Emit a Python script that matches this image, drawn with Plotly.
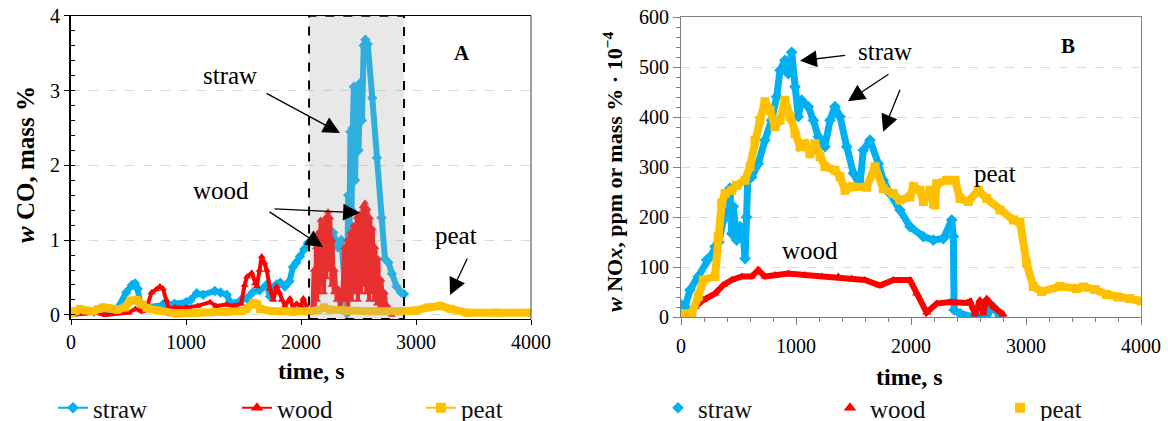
import plotly.graph_objects as go

FONT = "Liberation Serif"
BLUE = "#00b0f0"
RED = "#ff0000"
GOLD = "#ffc000"

# ---------------- Panel A : CO ----------------
co_straw_t = [0, 100, 200, 300, 409, 480, 530, 557, 580, 600, 615, 650, 800, 900, 1000, 1040, 1093, 1150,
              1250, 1300, 1355, 1383, 1420, 1480, 1530, 1580, 1640, 1700, 1730, 1760, 1790, 1820, 1860, 1900,
              1930, 1960, 1990, 2030, 2060, 2100, 2150, 2200, 2250, 2280, 2320, 2350, 2380, 2400, 2410, 2420,
              2430, 2440, 2450, 2460, 2470, 2485, 2500, 2515, 2530, 2545, 2560, 2580, 2620, 2660, 2700, 2730,
              2760, 2790, 2830, 2870, 2895]
co_straw_v = [0.03, 0.05, 0.04, 0.06, 0.10, 0.30, 0.40, 0.42, 0.35, 0.15, 0.07, 0.10, 0.14, 0.15, 0.17, 0.20,
              0.29, 0.27, 0.32, 0.30, 0.27, 0.17, 0.15, 0.20, 0.22, 0.30, 0.33, 0.40, 0.25, 0.37, 0.41, 0.43,
              0.38, 0.45, 0.64, 0.70, 0.78, 0.88, 0.96, 1.00, 0.90, 1.05, 1.13, 1.10, 0.90, 1.00, 0.30, 0.02,
              1.60, 0.90, 2.45, 1.40, 2.50, 3.05, 1.80, 3.00, 2.20, 3.10, 2.60, 3.60, 3.68, 3.62, 2.90, 2.10,
              1.30, 0.75, 0.70, 0.55, 0.38, 0.30, 0.28]

co_wood_t = [0, 100, 200, 300, 400, 500, 560, 620, 660, 700, 740, 773, 800, 830, 850, 900, 1000, 1100, 1210,
             1260, 1350, 1420, 1480, 1510, 1530, 1571, 1600, 1615, 1640, 1658, 1680, 1702, 1730, 1759, 1788,
             1810, 1832, 1860, 1904, 1930, 1962, 2000, 2020, 2060, 2090,
             2100, 2110, 2120, 2130, 2140, 2150, 2160, 2170, 2180, 2190, 2200, 2210, 2220, 2235, 2245, 2255,
             2265, 2275, 2285, 2295, 2310, 2325, 2340, 2360, 2375, 2385, 2400, 2410, 2426, 2440, 2455, 2470,
             2484, 2495, 2510, 2522, 2535, 2547, 2557, 2568, 2580, 2592, 2602, 2614, 2625, 2637, 2648, 2660,
             2672, 2684, 2700, 2715, 2730, 2745, 2760, 2790]
co_wood_v = [0.0, 0.02, 0.03, 0.0, 0.02, 0.03, 0.08, 0.05, 0.10, 0.30, 0.34, 0.38, 0.35, 0.20, 0.08, 0.10,
             0.10, 0.12, 0.17, 0.12, 0.14, 0.12, 0.15, 0.40, 0.51, 0.56, 0.42, 0.38, 0.60, 0.78, 0.70, 0.60,
             0.35, 0.20, 0.38, 0.30, 0.20, 0.12, 0.22, 0.10, 0.15, 0.12, 0.22, 0.07, 0.05,
             0.10, 0.60, 0.10, 0.90, 0.20, 1.10, 0.30, 1.27, 0.40, 1.20, 0.30, 1.30, 0.50, 1.38, 0.60, 1.30,
             0.40, 1.00, 0.30, 0.60, 0.20, 0.35, 0.06, 0.30, 0.90, 0.20, 1.00, 0.10, 1.10, 0.20, 1.20, 0.30,
             1.31, 0.20, 1.35, 0.30, 1.45, 0.40, 1.50, 0.30, 1.42, 0.20, 1.30, 0.30, 1.15, 0.20, 0.90, 0.15,
             0.75, 0.10, 0.47, 0.10, 0.30, 0.05, 0.11, 0.0]

co_peat_t = [0, 40, 78, 130, 194, 240, 280, 330, 400, 470, 513, 571, 620, 658, 750, 919, 1100, 1354, 1480,
             1528, 1586, 1620, 1643, 1750, 1930, 2060, 2150, 2200, 2250, 2400, 2600, 2860, 3000, 3100, 3209,
             3300, 3440, 3700, 4000]
co_peat_v = [0.02, 0.05, 0.08, 0.06, 0.05, 0.08, 0.10, 0.09, 0.07, 0.10, 0.19, 0.20, 0.14, 0.09, 0.06, 0.02,
             0.03, 0.04, 0.05, 0.08, 0.16, 0.14, 0.08, 0.05, 0.04, 0.05, 0.06, 0.10, 0.07, 0.05, 0.05, 0.05,
             0.06, 0.10, 0.12, 0.08, 0.03, 0.03, 0.03]

# ---------------- Panel B : NOx ----------------
nox_straw_t = [0, 35, 78, 151, 223, 252, 296, 330, 368, 400, 426, 441, 455, 484, 513, 542, 557, 570, 580, 614,
               672, 730, 788, 832, 861, 904, 933, 962, 991, 1020, 1049, 1107, 1151, 1194, 1252, 1296, 1339,
               1383, 1441, 1499, 1542, 1557, 1585, 1643, 1716, 1759, 1817, 1904, 1991, 2107, 2194, 2281, 2354,
               2368, 2375, 2426, 2542, 2658, 2716, 2774]
nox_straw_v = [25, 20, 54, 81, 114, 120, 141, 150, 194, 230, 258, 167, 221, 154, 181, 161, 117, 200, 274, 280,
               307, 354, 394, 441, 494, 514, 487, 530, 461, 401, 434, 421, 394, 361, 341, 394, 421,
               401, 341, 288, 268, 267, 334, 354, 307, 274, 247, 214, 181, 161, 154, 157, 194,
               161, 14, 7, 0, 4, 20, 0]

nox_wood_t = [0, 78, 122, 194, 296, 368, 441, 528, 614, 672, 730, 817, 933, 1078, 1223, 1368, 1484, 1600,
              1730, 1846, 1991, 2049, 2136, 2223, 2339, 2484, 2513, 2557, 2600, 2629, 2658, 2716, 2803]
nox_wood_v = [0, 7, 20, 34, 47, 64, 74, 81, 81, 94, 81, 84, 87, 84, 81, 81, 77, 74,
              63, 74, 74, 47, 9, 27, 30, 28, 31, 5, 34, 7, 37, 20, 5]

nox_peat_t = [0, 93, 151, 194, 296, 324, 354, 383, 441, 484, 557, 600, 643, 687, 730, 774, 817, 861, 904, 948,
              991, 1035, 1078, 1122, 1165, 1209, 1252, 1339, 1383, 1426, 1484, 1614, 1687, 1759, 1846, 1904,
              1991, 2020, 2078, 2107, 2136, 2165, 2194, 2209, 2223, 2310, 2383, 2426, 2499, 2586, 2658, 2774,
              2890, 2948, 3006, 3064, 3136, 3296, 3441, 3500, 3600, 3700, 3800, 3900, 4000]
nox_peat_v = [7, 7, 41, 74, 81, 161, 228, 247, 254, 264, 274, 301, 354, 394, 431, 414, 381, 394, 434, 401,
              367, 341, 347, 327, 347, 321, 301, 294, 281, 254, 261, 260, 301, 257, 247, 234,
              240, 261, 254, 231, 241, 254, 227, 224, 267, 274, 274, 237, 231, 254, 237, 214,
              194, 190, 107, 61, 51, 61, 57, 60, 55, 45, 40, 37, 32]

series_names = ["straw", "wood", "peat"]
x_ticks = [0, 1000, 2000, 3000, 4000]

W, H = 1168, 421


def px_x(p):
    return p / W


def px_y(p):
    return 1 - p / H


fig = go.Figure()

# Panel A data (lines + markers)
for name, t, v, col, sym, lw, ms in [
    ("straw", co_straw_t, co_straw_v, BLUE, "diamond", 6, 8),
    ("wood", co_wood_t, co_wood_v, RED, "triangle-up", 4, 7),
    ("peat", co_peat_t, co_peat_v, GOLD, "square", 8, 8),
]:
    fig.add_trace(go.Scatter(x=t, y=v, mode="lines+markers", xaxis="x", yaxis="y",
                             line=dict(color=col, width=lw), marker=dict(symbol=sym, size=ms, color=col),
                             showlegend=False, name=name))

# Panel B data (dense markers shown as bands)
for name, t, v, col, sym, lw, ms in [
    ("straw", nox_straw_t, nox_straw_v, BLUE, "diamond", 7, 9),
    ("wood", nox_wood_t, nox_wood_v, RED, "triangle-up", 6, 8),
    ("peat", nox_peat_t, nox_peat_v, GOLD, "square", 8, 9),
]:
    fig.add_trace(go.Scatter(x=t, y=v, mode="lines+markers", xaxis="x2", yaxis="y2",
                             line=dict(color=col, width=lw), marker=dict(symbol=sym, size=ms, color=col),
                             showlegend=False, name=name))

# Legend entries
leg_left_x = [53, 237, 421]
leg_right_x = [658, 830, 1000]
syms = ["diamond", "triangle-up", "square"]
cols = [BLUE, RED, GOLD]
msz = [9, 11, 10]
lg_layout = {}
for i, name in enumerate(series_names):
    k = i + 1
    lname = "legend" if k == 1 else f"legend{k}"
    fig.add_trace(go.Scatter(x=[None], y=[None], mode="lines+markers", xaxis="x", yaxis="y",
                             line=dict(color=cols[i], width=2), marker=dict(symbol=syms[i], size=msz[i], color=cols[i]),
                             name=name, legend=lname))
    lg_layout[lname] = dict(x=px_x(leg_left_x[i]), y=px_y(408), xanchor="left", yanchor="middle",
                            orientation="h", bgcolor="rgba(0,0,0,0)", font=dict(family=FONT, size=25, color="#111"))
    k2 = i + 4
    lname2 = f"legend{k2}"
    fig.add_trace(go.Scatter(x=[None], y=[None], mode="markers", xaxis="x2", yaxis="y2",
                             marker=dict(symbol=syms[i], size=msz[i], color=cols[i]),
                             name=name, legend=lname2))
    lg_layout[lname2] = dict(x=px_x(leg_right_x[i]), y=px_y(408), xanchor="left", yanchor="middle",
                             orientation="h", bgcolor="rgba(0,0,0,0)", font=dict(family=FONT, size=25, color="#111"))

tickfont = dict(family=FONT, size=20, color="#000")

fig.update_layout(
    width=W, height=H, margin=dict(l=0, r=0, t=0, b=0, autoexpand=False),
    paper_bgcolor="white", plot_bgcolor="white",
    font=dict(family=FONT, color="#000"),
    xaxis=dict(domain=[px_x(71), px_x(531)], range=[0, 4000], tickvals=x_ticks, anchor="y",
               showgrid=False, zeroline=False, showline=True, linecolor="#000", linewidth=1, mirror=True,
               ticks="outside", ticklen=5, tickcolor="#000", tickfont=tickfont),
    yaxis=dict(domain=[px_y(319), px_y(15.7)], range=[-0.055, 4], dtick=1, anchor="x",
               showgrid=True, gridcolor="#d9d9d9", griddash="dash", gridwidth=1, zeroline=False,
               showline=True, linecolor="#000", linewidth=2,
               ticks="outside", ticklen=5, tickcolor="#000", tickfont=tickfont,
               minor=dict(dtick=0.2, ticks="inside", ticklen=4, tickcolor="#000", showgrid=False)),
    xaxis2=dict(domain=[px_x(681), px_x(1141)], range=[0, 4000], tickvals=x_ticks, anchor="y2",
                showgrid=False, zeroline=False, showline=True, linecolor="#808080", linewidth=1, mirror=True,
                ticks="outside", ticklen=7, tickcolor="#808080", tickfont=tickfont, ticklabelstandoff=4,
                minor=dict(dtick=200, ticks="outside", ticklen=4, tickcolor="#808080", showgrid=False)),
    yaxis2=dict(domain=[px_y(317), px_y(17.3)], range=[0, 600], dtick=100, anchor="x2",
                showgrid=True, gridcolor="#d9d9d9", griddash="dash", gridwidth=1, zeroline=False,
                showline=True, linecolor="#808080", linewidth=1, mirror=True,
                ticks="outside", ticklen=7, tickcolor="#808080", tickfont=tickfont,
                minor=dict(dtick=20, ticks="outside", ticklen=4, tickcolor="#808080", showgrid=False)),
    **lg_layout,
)

# shaded, dashed box on panel A (drawn above data, semi transparent)
fig.add_shape(type="rect", xref="x", yref="y", x0=2070, x1=2896, y0=-0.055, y1=4.0,
              fillcolor="rgba(172,172,172,0.28)", line=dict(color="#000", width=2, dash="dash"), layer="above")

ann = []


def txt(x, y, s, xref="x", yref="y", size=25, **kw):
    ann.append(dict(x=x, y=y, xref=xref, yref=yref, text=s, showarrow=False,
                    xanchor="center", yanchor="middle",
                    font=dict(family=FONT, size=size, color="#000"), **kw))


def arrow(x0, y0, x1, y1, xref="x", yref="y"):
    ann.append(dict(x=x1, y=y1, ax=x0, ay=y0, xref=xref, yref=yref, axref=xref, ayref=yref, text="",
                    showarrow=True, arrowhead=2, arrowsize=2.6, arrowwidth=1.3, arrowcolor="#000"))


# Panel A texts
txt(1383, 3.195, "straw")
arrow(1687, 2.972, 2339, 2.433)
txt(1304, 1.658, "wood")
arrow(1757, 1.417, 2513, 1.364)
arrow(1713, 1.39, 2191, 0.909)
txt(3348, 1.056, "peat")
arrow(3452, 0.775, 3296, 0.267)
txt(3400, 3.5, "<b>A</b>", size=21)

# Panel B texts
txt(1774, 531, "straw", xref="x2", yref="y2")
arrow(1441, 524, 1035, 513, "x2", "y2")
arrow(1817, 488, 1452, 432, "x2", "y2")
arrow(1910, 458, 1757, 371, "x2", "y2")
txt(1122, 134, "wood", xref="x2", yref="y2")
txt(2730, 288, "peat", xref="x2", yref="y2")
txt(3365, 542, "<b>B</b>", xref="x2", yref="y2", size=21)

# Axis titles
txt(px_x(311), px_y(371), "<b>time, s</b>", xref="paper", yref="paper", size=24)
txt(px_x(909), px_y(377), "<b>time, s</b>", xref="paper", yref="paper", size=24)
txt(px_x(25), px_y(165), "<b><i>w</i> CO, mass %</b>", xref="paper", yref="paper", size=25, textangle=-90)
txt(px_x(613), px_y(172), "<b><i>w</i> NO<i>x</i>, ppm or mass % · 10<sup>−4</sup></b>",
    xref="paper", yref="paper", size=22, textangle=-90)

fig.update_layout(annotations=ann)

# right border of panel A
fig.add_shape(type="line", xref="x domain", yref="y domain", x0=1, x1=1, y0=0, y1=1,
              line=dict(color="#404040", width=1))

fig.write_html("out.html", config={"displayModeBar": False},
               post_script="document.body.style.margin='0';document.body.style.overflow='hidden';")
